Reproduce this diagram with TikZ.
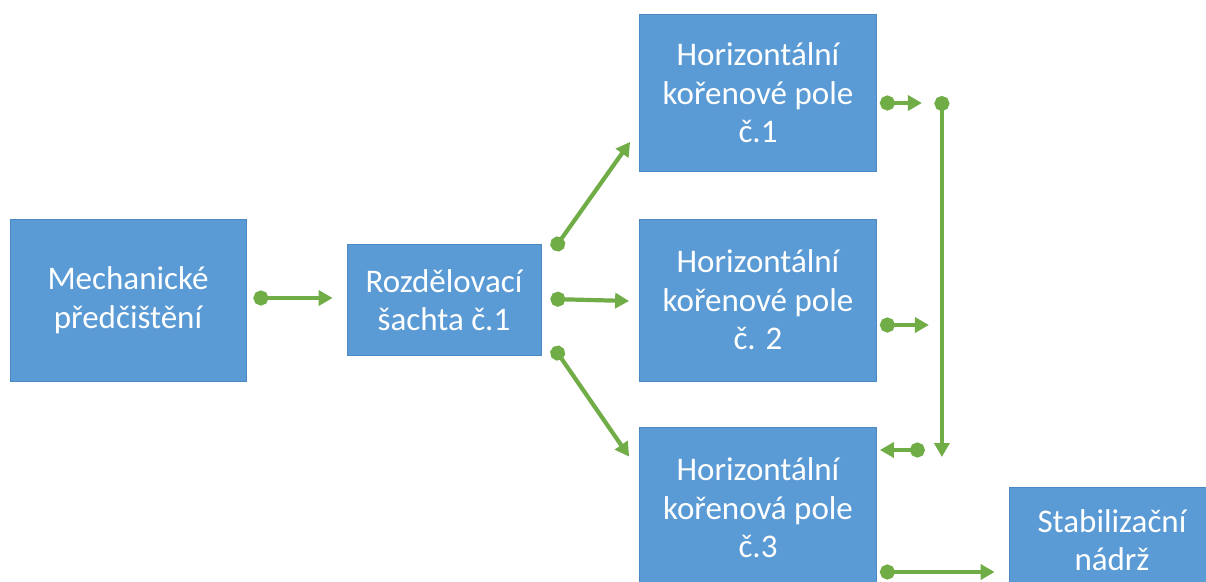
\documentclass[tikz,border=0pt]{standalone}
\usepackage{fontspec}
\setmainfont{Carlito}
\usepackage{tikz}
\usetikzlibrary{positioning,arrows.meta,calc}

\definecolor{boxblue}{HTML}{5B9BD5}
\definecolor{boxline}{HTML}{4A89C4}
\definecolor{flowgreen}{HTML}{70AD47}

\begin{document}
\begin{tikzpicture}[x=1pt,y=-1pt,
		stage/.style={draw=boxline, line width=0.8pt, fill=boxblue, text=white,
		align=center, inner sep=0pt, font=\fontsize{33}{38.5}\selectfont},
		flow/.style={draw=flowgreen, line width=4.2pt,
		{Circle[length=15pt]}-{Triangle[length=14pt,width=15pt]}}]
		\fill[white] (0,0) rectangle (1206,581);
		\useasboundingbox (0,0) rectangle (1206,581);
		% stages
		\node[stage, minimum width=236, minimum height=162] (mech) at (128,300)
			{Mechanické\\ předčištění};
		\node[stage, minimum width=194, minimum height=111] (rozd) at (444,300)
			{Rozdělovací\\ šachta č.1};
		\node[stage, minimum width=237, minimum height=157] (hkp1) at (758,93)
			{Horizontální\\ kořenové pole\\ č.1};
		\node[stage, minimum width=237, minimum height=162] (hkp2) at (758,300)
			{Horizontální\\ kořenové pole\\ č. 2};
		\node[stage, minimum width=237, minimum height=162] (hkp3) at (758,508)
			{Horizontální\\ kořenová pole\\ č.3};
		\node[stage, minimum width=206, minimum height=106] (stab) at (1112,540)
			{Stabilizační\\ nádrž};
		% flows
		\draw[flow] ($(mech.east)+(7,-2)$) -- ($(rozd.west)+(-14,-2)$);
		\draw[flow] ($(rozd.north east)+(12,6)$) -- ($(hkp1.south west)+(-9,-30)$);
		\draw[flow] ($(rozd.east)+(9,-1)$) -- ($(hkp2.west)+(-10,1)$);
		\draw[flow] ($(rozd.south east)+(12,-9)$) -- ($(hkp3.north west)+(-10,30)$);
		\draw[flow] ($(hkp1.east)+(3,10)$) -- ($(hkp1.east)+(45,10)$);
		\coordinate (bustop) at ($(hkp1.east)+(65,3)$);
		\coordinate (busend) at ($(hkp3.east)+(65,-51)$);
		\draw[flow] (bustop) -- (busend);
		\draw[flow] ($(hkp2.east)+(3,25)$) -- ($(hkp2.east)+(52,25)$);
		\draw[flow] ($(hkp3.east)+(48,-58)$) -- ($(hkp3.east)+(3,-58)$);
		\draw[flow] ($(hkp3.east)+(3,64)$) -- ($(stab.west)+(-14,32)$);
	\end{tikzpicture}
\end{document}
